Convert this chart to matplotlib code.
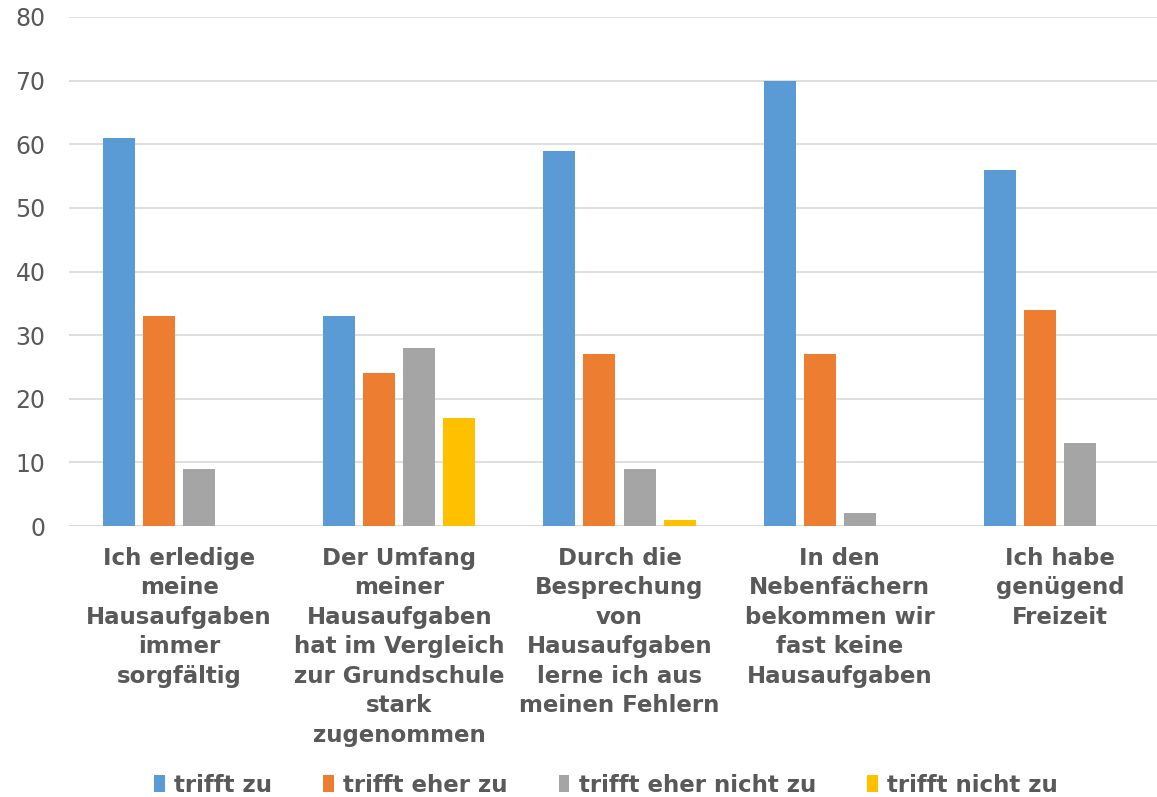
import numpy as np
import matplotlib
matplotlib.use("Agg")
import matplotlib.pyplot as plt

categories = [
    "Ich erledige\nmeine\nHausaufgaben\nimmer\nsorgfältig",
    "Der Umfang\nmeiner\nHausaufgaben\nhat im Vergleich\nzur Grundschule\nstark\nzugenommen",
    "Durch die\nBesprechung\nvon\nHausaufgaben\nlerne ich aus\nmeinen Fehlern",
    "In den\nNebenfächern\nbekommen wir\nfast keine\nHausaufgaben",
    "Ich habe\ngenügend\nFreizeit",
]
series_names = ["trifft zu", "trifft eher zu", "trifft eher nicht zu", "trifft nicht zu"]
trifft_zu = [61, 33, 59, 70, 56]
trifft_eher_zu = [33, 24, 27, 27, 34]
trifft_eher_nicht_zu = [9, 28, 9, 2, 13]
trifft_nicht_zu = [0, 17, 1, 0, 0]
colors = ["#5B9BD5", "#ED7D31", "#A5A5A5", "#FFC000"]

text_color = "#595959"

fig = plt.figure(figsize=(11.57, 7.97), dpi=100)
# plot area runs past the right edge of the picture, as in the original
ax = fig.add_axes([69 / 1157, 271 / 797, 1101 / 1157, 509 / 797])

x = np.arange(len(categories))
step = 0.182
width = 0.145
all_series = [trifft_zu, trifft_eher_zu, trifft_eher_nicht_zu, trifft_nicht_zu]
for i, (vals, name, c) in enumerate(zip(all_series, series_names, colors)):
    ax.bar(x + (i - 1.5) * step, vals, width, color=c, label=name, zorder=3)

ax.set_xlim(-0.5, len(categories) - 0.5)
ax.set_ylim(0, 80)
ax.set_yticks(range(0, 81, 10))
ax.yaxis.grid(True, color="#D9D9D9", linewidth=1.2, zorder=0)
ax.set_axisbelow(True)
for s in ["top", "right", "left", "bottom"]:
    ax.spines[s].set_visible(False)
ax.axhline(0, color="#D9D9D9", linewidth=1.4, zorder=1)

ax.set_xticks(x)
ax.set_xticklabels(categories, fontsize=16.5, fontweight="bold", color=text_color,
                   linespacing=1.36, va="top")
ax.tick_params(axis="x", length=0, pad=15)
ax.tick_params(axis="y", length=0, pad=17, labelsize=17, labelcolor=text_color)

leg = fig.legend(loc="center", bbox_to_anchor=(606 / 1157, 1 - 785 / 797), ncol=4,
                 frameon=False, handlelength=0.45, handleheight=0.8, handletextpad=0.4,
                 columnspacing=2.25, prop={"size": 16.5, "weight": "bold"})
for t in leg.get_texts():
    t.set_color(text_color)

fig.savefig("out.png", dpi=100)
